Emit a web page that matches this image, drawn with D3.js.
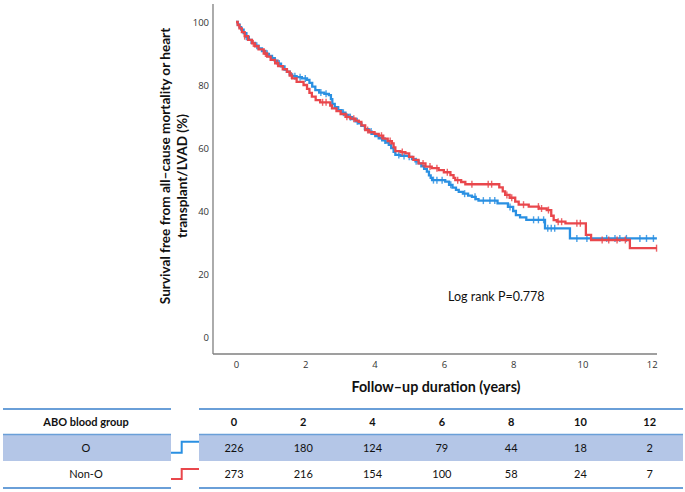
<!DOCTYPE html>
<html>
<head>
<meta charset="utf-8">
<script src="https://cdn.jsdelivr.net/npm/d3@7"></script>
<style>
  html, body { margin: 0; padding: 0; background: #fff; }
  svg { display: block; }
</style>
</head>
<body>
<svg id="chart" width="685" height="492"></svg>
<script>
// ---------------- DATA ----------------
const xTicks = [0, 2, 4, 6, 8, 10, 12];
const yTicks = [0, 20, 40, 60, 80, 100];

// Blood group O (blue): event times (years) and survival (%)
const blueTimes = [0, 0.05, 0.1, 0.15, 0.22, 0.3, 0.37, 0.45, 0.55, 0.65, 0.75, 0.85, 0.95, 1.04, 1.12, 1.2, 1.3, 1.4, 1.47, 1.55, 1.62, 1.75, 1.9, 2.05, 2.12, 2.2, 2.29, 2.4, 2.55, 2.68, 2.74, 2.78, 2.85, 2.95, 3.05, 3.16, 3.25, 3.35, 3.45, 3.54, 3.62, 3.72, 3.83, 3.92, 4.02, 4.12, 4.22, 4.32, 4.41, 4.48, 4.55, 4.6, 4.75, 4.99, 5.08, 5.18, 5.27, 5.35, 5.43, 5.51, 5.57, 5.62, 5.66, 6.04, 6.15, 6.25, 6.35, 6.43, 6.55, 6.7, 6.81, 6.92, 7.0, 7.55, 7.85, 8.0, 8.08, 8.2, 8.38, 8.92, 9.64, 12.15];
const blueSurv  = [100, 99.2, 98.4, 97.6, 96.5, 95.3, 94.3, 93.4, 92.5, 91.6, 90.8, 89.9, 89.2, 88.5, 87.7, 86.8, 85.9, 84.9, 84.2, 83.4, 82.8, 82.5, 82.1, 81.6, 80.7, 79.5, 78.4, 77.6, 77.2, 76.8, 75.5, 74.0, 73.0, 72.0, 71.2, 70.5, 69.8, 69.2, 68.5, 67.8, 67.0, 66.0, 65.2, 64.5, 63.8, 63.1, 62.4, 61.7, 61.0, 60.0, 58.8, 57.8, 57.5, 57.2, 56.5, 55.8, 55.1, 54.2, 53.4, 52.5, 51.3, 50.5, 49.8, 49.3, 48.3, 47.4, 46.7, 46.1, 45.5, 44.9, 44.5, 43.8, 43.3, 42.4, 41.3, 40.0, 38.7, 38.0, 37.2, 34.5, 31.3, 31.3];
const blueCensor = [0.3, 0.6, 0.9, 1.25, 1.7, 1.85, 2.0, 2.45, 2.6, 3.1, 3.3, 3.5, 3.9, 4.3, 4.7, 4.85, 5.0, 5.2, 5.7, 5.8, 5.95, 6.2, 6.6, 6.9, 7.14, 7.33, 7.47, 7.91, 8.59, 8.73, 8.88, 9.0, 9.1, 9.2, 9.84, 10.13, 10.7, 10.94, 11.08, 11.27, 11.66, 11.85, 12.05];

// Blood group Non-O (red)
const redTimes = [0, 0.05, 0.1, 0.17, 0.25, 0.35, 0.46, 0.55, 0.65, 0.8, 0.9, 1.0, 1.13, 1.22, 1.35, 1.47, 1.55, 1.62, 1.75, 1.95, 2.05, 2.12, 2.19, 2.3, 2.43, 2.72, 2.77, 2.9, 3.02, 3.16, 3.3, 3.45, 3.54, 3.62, 3.73, 3.85, 4.0, 4.12, 4.25, 4.38, 4.5, 4.55, 4.6, 4.75, 4.89, 5.0, 5.12, 5.27, 5.47, 5.65, 5.85, 6.0, 6.19, 6.28, 6.33, 6.5, 6.62, 7.6, 7.7, 7.77, 7.9, 8.06, 8.16, 8.45, 8.74, 8.97, 9.1, 9.17, 9.26, 9.51, 10.1, 10.25, 11.37, 12.15];
const redSurv  = [100, 99.0, 98.0, 96.8, 95.5, 94.3, 93.2, 92.3, 91.3, 90.0, 89.0, 88.0, 86.9, 86.0, 85.0, 84.2, 83.0, 82.1, 81.0, 80.0, 78.8, 77.5, 76.3, 75.2, 74.5, 73.5, 72.6, 71.7, 70.8, 69.9, 69.3, 68.7, 68.3, 67.2, 65.7, 65.0, 64.5, 63.9, 63.0, 62.2, 61.5, 60.2, 59.0, 58.7, 58.3, 57.2, 56.2, 55.1, 54.1, 53.6, 53.0, 52.3, 51.4, 50.5, 49.8, 49.2, 48.5, 47.5, 46.2, 45.1, 44.2, 43.0, 42.0, 41.4, 40.8, 40.3, 38.5, 37.1, 36.6, 36.1, 32.4, 30.8, 28.2, 28.2];
const redCensor = [0.25, 0.5, 0.85, 1.2, 1.6, 2.5, 2.6, 3.2, 3.4, 3.8, 4.2, 4.45, 4.8, 5.4, 5.6, 5.8, 6.1, 6.4, 6.81, 7.28, 7.38, 7.82, 7.96, 8.3, 8.73, 8.82, 9.02, 9.3, 9.4, 9.84, 9.94, 10.57, 10.76, 11.0, 11.24, 12.14];

// Numbers at risk
const riskGroups = ["O", "Non-O"];
const riskO    = [226, 180, 124, 79, 44, 18, 2];
const riskNonO = [273, 216, 154, 100, 58, 24, 7];

const colors = { O: "#2a90e2", NonO: "#e9474c" };

// ---------------- CHART ----------------
const svg = d3.select("#chart");
const x = d3.scaleLinear().domain([0, 12]).range([236, 651.7]);
const y = d3.scaleLinear().domain([0, 100]).range([337, 22]);

const axisColor = "#7f7f7f";
const tickFont = "'Open Sans', 'DejaVu Sans', sans-serif";

// axis frame
svg.append("line").attr("x1", 213).attr("x2", 213).attr("y1", 4).attr("y2", 354)
  .attr("stroke", axisColor).attr("stroke-width", 1.3);
svg.append("line").attr("x1", 213).attr("x2", 657).attr("y1", 354).attr("y2", 354)
  .attr("stroke", axisColor).attr("stroke-width", 1.3);

const gx = svg.append("g").attr("transform", "translate(0,354)")
  .call(d3.axisBottom(x).tickValues(xTicks).tickSize(0).tickPadding(7));
gx.select(".domain").remove();
gx.selectAll("text").attr("font-family", tickFont).attr("font-size", 9.5).attr("fill", "#333");

const gy = svg.append("g").attr("transform", "translate(213,0)")
  .call(d3.axisLeft(y).tickValues(yTicks).tickSize(0).tickPadding(4));
gy.select(".domain").remove();
gy.selectAll("text").attr("font-family", tickFont).attr("font-size", 9.5).attr("fill", "#333");

// axis titles
const titleFont = "Lato, 'Open Sans', sans-serif";
svg.append("text").attr("x", 436).attr("y", 391.5).attr("text-anchor", "middle")
  .attr("font-family", titleFont).attr("font-weight", "bold").attr("font-size", 14.3).attr("fill", "#111")
  .text("Follow\u2013up duration (years)");

svg.append("text").attr("transform", "translate(170,166) rotate(-90)").attr("text-anchor", "middle")
  .attr("font-family", titleFont).attr("font-weight", "bold").attr("font-size", 13.6).attr("fill", "#111")
  .text("Survival free from all\u2013cause mortality or heart");
svg.append("text").attr("transform", "translate(187,176) rotate(-90)").attr("text-anchor", "middle")
  .attr("font-family", titleFont).attr("font-weight", "bold").attr("font-size", 13.6).attr("fill", "#111")
  .text("transplant/LVAD (%)");

// KM curves
const line = d3.line().x(d => x(d[0])).y(d => y(d[1])).curve(d3.curveStepAfter);
function drawKM(times, surv, censor, color) {
  const pts = times.map((t, i) => [t, surv[i]]);
  svg.append("path").datum(pts).attr("d", line).attr("fill", "none")
    .attr("stroke", color).attr("stroke-width", 2.3).attr("stroke-linejoin", "miter");
  const bis = d3.bisector(d => d).right;
  censor.forEach(t => {
    const i = Math.max(0, bis(times, t) - 1);
    const cx = x(t), cy = y(surv[i]);
    svg.append("line").attr("x1", cx).attr("x2", cx).attr("y1", cy - 3.5).attr("y2", cy + 3.5)
      .attr("stroke", color).attr("stroke-width", 1.4).attr("opacity", 0.85);
  });
}
drawKM(blueTimes, blueSurv, blueCensor, colors.O);
drawKM(redTimes, redSurv, redCensor, colors.NonO);

// log rank
svg.append("text").attr("x", 448).attr("y", 301).attr("font-family", titleFont)
  .attr("font-size", 12.5).attr("fill", "#111").text("Log rank P=0.778");

// ---------------- RISK TABLE ----------------
const lineBlue = "#6a9fd8";
const bandBlue = "#b4c6e7";
const tFont = "Lato, 'Open Sans', sans-serif";
const segs = [[3, 171], [199, 683]];
segs.forEach(s => {
  svg.append("rect").attr("x", s[0]).attr("y", 435).attr("width", s[1] - s[0]).attr("height", 26).attr("fill", bandBlue);
  svg.append("line").attr("x1", s[0]).attr("x2", s[1]).attr("y1", 409).attr("y2", 409).attr("stroke", lineBlue).attr("stroke-width", 2);
  svg.append("line").attr("x1", s[0]).attr("x2", s[1]).attr("y1", 434.5).attr("y2", 434.5).attr("stroke", lineBlue).attr("stroke-width", 1.5);
  svg.append("line").attr("x1", s[0]).attr("x2", s[1]).attr("y1", 488).attr("y2", 488).attr("stroke", lineBlue).attr("stroke-width", 2);
});

svg.append("text").attr("x", 86).attr("y", 426).attr("text-anchor", "middle")
  .attr("font-family", tFont).attr("font-weight", "bold").attr("font-size", 11).attr("fill", "#111").text("ABO blood group");
const rowY = [452, 478];
riskGroups.forEach((g, i) => {
  svg.append("text").attr("x", 86).attr("y", rowY[i]).attr("text-anchor", "middle")
    .attr("font-family", tFont).attr("font-size", 11).attr("fill", "#111").text(g);
});
xTicks.forEach((t, j) => {
  svg.append("text").attr("x", x(t) - 2).attr("y", 426).attr("text-anchor", "middle")
    .attr("font-family", tFont).attr("font-weight", "bold").attr("font-size", 11).attr("fill", "#111").text(t);
  [riskO, riskNonO].forEach((arr, i) => {
    svg.append("text").attr("x", x(t) - 2).attr("y", rowY[i]).attr("text-anchor", "middle")
      .attr("font-family", tFont).attr("font-size", 11).attr("fill", "#111").text(arr[j]);
  });
});

// legend step symbols
const legendSteps = [
  { c: colors.O, y0: 452.7, y1: 441.7 },
  { c: colors.NonO, y0: 479, y1: 469 }
];
legendSteps.forEach(s => {
  svg.append("path").attr("d", `M171,${s.y0}H181.7V${s.y1}H199`).attr("fill", "none")
    .attr("stroke", s.c).attr("stroke-width", 2);
});
</script>
</body>
</html>
